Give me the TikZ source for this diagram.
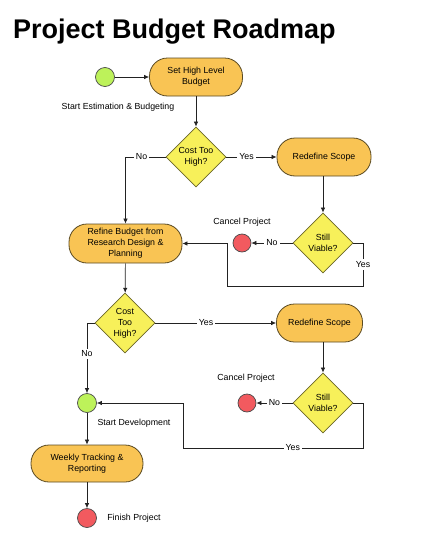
\documentclass[tikz,border=0pt]{standalone}
\usepackage{fontspec}
\setmainfont{Liberation Sans}
\usetikzlibrary{shapes.geometric,arrows.meta}
\definecolor{boxfill}{HTML}{F9C454}
\definecolor{boxline}{HTML}{5A4A22}
\definecolor{dfill}{HTML}{F7F05A}
\definecolor{dline}{HTML}{6A6628}
\definecolor{gfill}{HTML}{BDF25A}
\definecolor{rfill}{HTML}{F25A5F}
\definecolor{cline}{HTML}{4A4A4A}
\definecolor{conn}{HTML}{222222}
\tikzset{
  pill/.style={draw=boxline, fill=boxfill, line width=0.8pt, rounded corners=18pt,
    minimum height=38pt, align=center, font=\fontsize{8.8}{11}\selectfont, inner sep=2pt},
  decide/.style={draw=dline, fill=dfill, line width=0.8pt, shape=diamond, aspect=1,
    minimum width=60pt, minimum height=60pt, inner sep=0pt, align=center,
    font=\fontsize{8.8}{11}\selectfont},
  startc/.style={draw=cline, fill=gfill, circle, minimum size=19pt, inner sep=0pt, line width=0.7pt},
  endc/.style={draw=cline, fill=rfill, circle, minimum size=19pt, inner sep=0pt, line width=0.7pt},
  lbl/.style={font=\fontsize{8.8}{11}\selectfont, inner sep=1pt},
  elbl/.style={font=\fontsize{8.8}{11}\selectfont, fill=white, inner sep=2pt},
  conn/.style={draw=conn, line width=0.7pt, -{Latex[length=5pt,width=4.5pt]}},
  plain/.style={draw=conn, line width=0.7pt}
}
\begin{document}
\begin{tikzpicture}[x=1pt,y=-1pt]
\useasboundingbox (0,0) rectangle (432,549);
\node[anchor=base west, inner sep=0pt, font=\fontsize{27}{30}\bfseries\selectfont] (title) at (13,38) {Project Budget Roadmap};

\node[startc] (start) at (105,77) {};
\node[pill, minimum width=93pt] (set) at (196,77) {Set High Level\\Budget};
\node[lbl] (startlbl) at (118,107) {Start Estimation \& Budgeting};

\node[decide] (d1) at (196,157) {Cost Too\\High?};
\node[pill, minimum width=94pt] (rs1) at (324,157) {Redefine Scope};
\node[decide] (d2) at (323,243) {Still\\Viable?};
\node[endc, minimum size=18pt] (c1) at (242,243) {};
\node[lbl] (c1lbl) at (242,222) {Cancel Project};
\node[pill, minimum width=113pt, minimum height=39pt] (refine) at (125.5,243.5) {Refine Budget from\\Research Design \&\\Planning};

\node[decide] (d3) at (125,323) {Cost\\Too\\High?};
\node[pill, minimum width=86pt] (rs2) at (319.5,323) {Redefine Scope};
\node[decide] (d4) at (323,403) {Still\\Viable?};
\node[endc, minimum size=18pt] (c2) at (247,403) {};
\node[lbl] (c2lbl) at (246,378) {Cancel Project};

\node[startc] (sd) at (87,403) {};
\node[lbl] (sdlbl) at (134,423) {Start Development};
\node[pill, minimum width=112pt, minimum height=37pt] (weekly) at (87,463.5) {Weekly Tracking \&\\Reporting};
\node[endc] (finish) at (87,518) {};
\node[lbl] (finlbl) at (134,518) {Finish Project};

\coordinate (y1a) at (363,286);
\coordinate (y1b) at (227,286);
\coordinate (y2a) at (363,448);
\coordinate (y2b) at (183,448);

\draw[conn] (start) -- (set);
\draw[conn] (set) -- (d1);
\draw[conn] (d1) -- node[elbl, pos=0.4]{Yes} (rs1);
\draw[conn] (d1.west) -| node[elbl, pos=0.3]{No} (refine.north);
\draw[conn] (rs1.south -| d2.north) -- (d2);
\draw[conn] (d2) -- node[elbl]{No} (c1);
\draw[plain] (d2.east) -| node[elbl, pos=0.75]{Yes} (y1a) -- (y1b);
\draw[conn] (y1b) |- (refine.east);
\draw[conn] (refine) -- (d3);
\draw[conn] (d3) -- node[elbl, pos=0.42]{Yes} (rs2);
\draw[conn] (d3.west) -| node[elbl, pos=0.72]{No} (sd.north);
\draw[conn] (rs2.south -| d4.north) -- (d4);
\draw[conn] (d4) -- node[elbl]{No} (c2);
\draw[plain] (d4.east) -| (y2a) -- node[elbl, pos=0.39]{Yes} (y2b);
\draw[conn] (y2b) |- (sd.east);
\draw[conn] (sd) -- (weekly);
\draw[conn] (weekly) -- (finish);
\end{tikzpicture}
\end{document}
